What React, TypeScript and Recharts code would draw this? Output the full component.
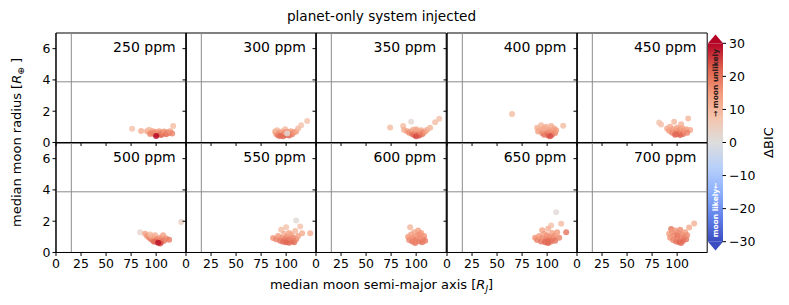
import React from 'react';
import {
  ScatterChart, Scatter, XAxis, YAxis, ReferenceLine, ReferenceArea,
  BarChart, Bar,
} from 'recharts';

// panel labels (injected noise level)
const ppmLabels = ['250 ppm', '300 ppm', '350 ppm', '400 ppm', '450 ppm', '500 ppm', '550 ppm', '600 ppm', '650 ppm', '700 ppm'];

const xTicks = [0, 25, 50, 75, 100];
const yTicks = [0, 2, 4, 6];
const cbarTicks = [-30, -20, -10, 0, 10, 20, 30];

// [semi-major axis (R_J), moon radius (R_earth), delta BIC]
const p250 = [[76, 0.88, 8], [85, 0.74, 12], [91, 0.72, 14], [93, 0.82, 9], [95, 0.62, 16], [96, 0.74, 12], [98, 0.55, 20], [99, 0.68, 15], [101, 0.5, 22], [102, 0.62, 18], [103, 0.72, 14], [104, 0.55, 20], [105, 0.48, 22], [106, 0.64, 17], [107, 0.58, 19], [108, 0.7, 15], [110, 0.52, 21], [111, 0.66, 17], [113, 0.6, 19], [114, 0.72, 14], [116, 0.58, 18], [117, 1.05, 9], [97, 0.6, 17], [94, 0.55, 18], [100, 0.42, 30]];
const p300 = [[89, 0.7, 12], [90, 0.55, 15], [91, 0.78, 10], [92, 0.45, 20], [93, 0.62, 16], [95, 0.5, 20], [96, 0.7, 13], [97, 0.4, 22], [98, 0.58, 18], [99, 0.85, 10], [100, 0.48, 22], [102, 0.68, 15], [103, 0.45, 22], [104, 0.6, 17], [105, 0.72, 13], [106, 0.52, 19], [108, 0.65, 16], [110, 0.7, 14], [112, 0.9, 10], [115, 1.1, 8], [121, 1.37, 8], [94, 0.42, 21], [99, 0.66, 16], [101, 0.58, 1]];
const p350 = [[74, 0.96, 9], [87, 1.05, 9], [95, 1.33, 2], [88, 0.8, 12], [91, 0.72, 14], [93, 0.62, 17], [95, 0.7, 15], [96, 0.55, 20], [97, 0.82, 12], [98, 0.48, 22], [99, 0.62, 18], [100, 0.4, 25], [101, 0.72, 16], [102, 0.55, 21], [103, 0.45, 24], [104, 0.66, 17], [105, 0.78, 13], [106, 0.52, 20], [107, 0.62, 18], [109, 0.7, 15], [111, 0.82, 12], [114, 0.95, 10], [119, 1.3, 9], [123, 1.52, 8], [100, 0.85, 13]];
const p400 = [[65, 1.82, 9], [116, 1.07, 9], [90, 0.95, 11], [91, 0.7, 14], [92, 0.82, 12], [94, 1.1, 10], [95, 0.6, 17], [96, 0.85, 13], [97, 0.5, 20], [98, 0.72, 15], [99, 1.0, 11], [100, 0.58, 19], [101, 0.45, 22], [102, 0.8, 14], [103, 0.65, 17], [104, 1.05, 12], [105, 0.5, 21], [106, 0.75, 15], [107, 0.9, 13], [108, 0.6, 18], [109, 0.78, 15], [103, 0.4, 24], [97, 0.92, 12]];
const p450 = [[82, 1.28, 7], [84, 1.15, 8], [97, 1.33, 10], [104, 1.17, 11], [111, 1.54, 10], [113, 0.8, 13], [90, 0.9, 13], [92, 0.75, 15], [93, 1.0, 12], [95, 0.62, 18], [96, 0.85, 15], [98, 0.5, 22], [99, 0.72, 17], [100, 0.95, 14], [101, 0.58, 20], [102, 0.8, 16], [103, 0.48, 23], [104, 0.68, 18], [105, 0.9, 14], [106, 0.55, 21], [107, 0.75, 16], [109, 0.85, 14], [110, 0.62, 18], [99, 0.55, 21]];
const p500 = [[84, 1.3, 3], [125, 1.95, 4], [89, 1.2, 14], [91, 1.05, 16], [93, 0.95, 17], [94, 1.15, 10], [95, 0.85, 19], [96, 1.0, 10], [97, 0.75, 20], [98, 0.9, 15], [99, 1.1, 12], [100, 0.7, 22], [101, 0.85, 18], [103, 0.75, 22], [104, 0.95, 16], [105, 0.65, 23], [106, 0.85, 18], [107, 1.1, 14], [108, 0.75, 20], [110, 0.9, 17], [113, 0.82, 19], [98, 0.68, 21], [104, 0.58, 24], [102, 0.62, 29]];
const p550 = [[87, 0.92, 16], [90, 0.85, 18], [92, 1.05, 15], [94, 0.75, 20], [95, 1.45, 9], [96, 0.95, 17], [97, 0.68, 21], [98, 1.2, 12], [99, 0.85, 19], [100, 1.62, 8], [100, 0.65, 22], [101, 1.0, 17], [102, 0.78, 20], [103, 0.62, 22], [104, 0.9, 18], [105, 1.15, 14], [106, 0.72, 20], [107, 0.95, 17], [108, 0.65, 21], [109, 1.38, 10], [110, 2.04, 1], [110, 0.85, 18], [112, 1.05, 14], [114, 1.66, 8], [116, 1.23, 12], [124, 1.23, 12], [103, 1.25, 13]];
const p600 = [[94, 1.62, 10], [92, 1.0, 15], [93, 0.8, 17], [95, 1.15, 14], [96, 0.7, 19], [97, 0.95, 16], [98, 1.3, 13], [99, 0.6, 20], [100, 0.85, 18], [101, 1.1, 15], [102, 1.4, 14], [103, 0.72, 19], [104, 0.95, 17], [105, 1.25, 15], [106, 0.65, 20], [107, 0.88, 17], [108, 1.05, 16], [109, 0.75, 19], [98, 0.78, 18], [103, 1.15, 16]];
const p650 = [[109, 2.58, 1], [114, 1.83, 9], [104, 1.73, 8], [101, 1.52, 11], [95, 1.42, 13], [119, 1.3, 20], [88, 0.95, 16], [90, 0.8, 18], [92, 1.05, 15], [94, 0.7, 20], [95, 0.95, 17], [97, 1.2, 14], [98, 0.65, 22], [99, 0.88, 19], [100, 1.1, 16], [101, 0.6, 23], [102, 0.8, 20], [103, 1.0, 17], [104, 0.7, 21], [105, 1.25, 14], [106, 0.9, 19], [107, 1.05, 16], [108, 0.75, 20], [110, 1.3, 15], [112, 0.95, 18], [100, 0.72, 21]];
const p700 = [[117, 1.85, 11], [112, 1.6, 12], [94, 1.5, 20], [92, 1.2, 14], [93, 0.95, 16], [95, 1.3, 15], [96, 0.8, 18], [97, 1.1, 17], [98, 1.4, 16], [99, 0.7, 20], [100, 0.95, 18], [101, 1.25, 16], [102, 0.65, 22], [103, 1.45, 17], [104, 0.9, 19], [105, 1.15, 17], [106, 0.75, 21], [107, 1.0, 18], [108, 1.3, 15], [109, 0.85, 20], [110, 1.1, 17], [100, 1.1, 19], [104, 0.6, 21]];

const panels = [p250, p300, p350, p400, p450, p500, p550, p600, p650, p700];

const FONT = '"DejaVu Sans", sans-serif';
const PANEL_LEFT = 56;
const PANEL_W = 130.2;
const PANEL_H = 109.5;
const ROW_TOPS = [33, 142.5];
const YW = 40;
const XH = 24;
const PAD = 2;

// matplotlib coolwarm, sampled
const cw: [number, number[]][] = [
  [0, [59, 76, 192]], [0.125, [98, 130, 234]], [0.25, [141, 176, 254]], [0.375, [184, 208, 249]],
  [0.5, [221, 221, 221]], [0.625, [244, 196, 173]], [0.75, [244, 154, 123]], [0.875, [222, 96, 77]], [1, [180, 4, 38]],
];

function coolwarm(t: number) {
  t = Math.max(0, Math.min(1, t));
  for (let i = 1; i < cw.length; i++) {
    if (t <= cw[i][0]) {
      const [t0, c0] = cw[i - 1];
      const [t1, c1] = cw[i];
      const f = (t - t0) / (t1 - t0);
      const c = c0.map((v, k) => Math.round(v + (c1[k] - v) * f));
      return `rgb(${c[0]},${c[1]},${c[2]})`;
    }
  }
  return 'rgb(180,4,38)';
}

const bicColour = (d: number) => coolwarm((d + 30) / 60);

function Dot(props: any) {
  const { cx, cy, payload } = props;
  if (cx == null || cy == null) return <g />;
  return <circle cx={cx} cy={cy} r={3} fill={bicColour(payload.d)} fillOpacity={0.8} />;
}

const tickStyle = { fontSize: 12.5, fill: '#000', fontFamily: FONT };
const noTick = () => <g />;

function Panel({ idx }: { idx: number }) {
  const row = Math.floor(idx / 5);
  const col = idx % 5;
  const left = PANEL_LEFT + col * PANEL_W;
  const top = ROW_TOPS[row];
  const data = panels[idx].map(([a, r, d]) => ({ a, r, d }));
  return (
    <div style={{ position: 'absolute', left: left - YW, top: top - PAD }}>
      <ScatterChart
        width={YW + PANEL_W + PAD}
        height={PAD + PANEL_H + XH}
        margin={{ top: PAD, right: PAD, bottom: 0, left: 0 }}
      >
        <XAxis
          type="number"
          dataKey="a"
          domain={[0, 130]}
          ticks={xTicks}
          allowDataOverflow
          height={XH}
          tickSize={3.5}
          tickMargin={3}
          stroke="#000"
          tickLine={{ stroke: '#000' }}
          tick={row === 1 ? tickStyle : noTick}
        />
        <YAxis
          type="number"
          dataKey="r"
          domain={[0, 7]}
          ticks={yTicks}
          allowDataOverflow
          width={YW}
          tickSize={3.5}
          tickMargin={2}
          stroke="#000"
          tickLine={{ stroke: '#000' }}
          tick={col === 0 ? tickStyle : noTick}
        />
        <ReferenceLine x={15.3} stroke="#8c8c8c" strokeWidth={1} />
        <ReferenceLine y={3.88} stroke="#8c8c8c" strokeWidth={1} />
        <Scatter data={data} shape={<Dot />} isAnimationActive={false} />
        <ReferenceArea x1={0} x2={130} y1={0} y2={7} fill="none" stroke="#000" strokeWidth={1} ifOverflow="visible" />
      </ScatterChart>
    </div>
  );
}

function ColorbarShape(props: any) {
  const { x, y, width, height } = props;
  const top = Math.min(y, y + height);
  const h = Math.abs(height);
  const tip = (h * 2.7) / 60;
  const cx = x + width / 2;
  return (
    <g>
      <defs>
        <linearGradient id="cbgrad" x1="0" y1="1" x2="0" y2="0">
          {cw.map(([t, c]) => (
            <stop key={t} offset={t} stopColor={`rgb(${c[0]},${c[1]},${c[2]})`} />
          ))}
        </linearGradient>
      </defs>
      <rect x={x} y={top} width={width} height={h} fill="url(#cbgrad)" />
      <polygon points={`${x},${top} ${x + width},${top} ${cx},${top - tip}`} fill="#b40426" />
      <polygon points={`${x},${top + h} ${x + width},${top + h} ${cx},${top + h + tip}`} fill="#3b4cc0" />
      <text
        x={cx} y={top + h * 0.2} transform={`rotate(-90 ${cx} ${top + h * 0.2})`}
        textAnchor="middle" dominantBaseline="central" fontSize={7.5} fontWeight="bold"
        fill="#2a1a1a" fontFamily={FONT}
      >
        → moon unlikely
      </text>
      <text
        x={cx} y={top + h * 0.84} transform={`rotate(-90 ${cx} ${top + h * 0.84})`}
        textAnchor="middle" dominantBaseline="central" fontSize={7.5} fontWeight="bold"
        fill="#ffffff" fontFamily={FONT}
      >
        moon likely←
      </text>
    </g>
  );
}

const cbarData = [{ k: 'c', v: [-30, 30] }];

function Colorbar() {
  return (
    <div style={{ position: 'absolute', left: 700, top: 0 }}>
      <BarChart
        width={89}
        height={270}
        data={cbarData}
        margin={{ top: 33.4, right: 0, bottom: 18.4, left: 8 }}
        barCategoryGap={0}
        barGap={0}
      >
        <XAxis dataKey="k" type="category" hide />
        <YAxis
          orientation="right"
          type="number"
          domain={[-33, 33]}
          ticks={cbarTicks}
          width={66.5}
          axisLine={false}
          tickSize={3.5}
          tickMargin={3}
          tickLine={{ stroke: '#000' }}
          tick={tickStyle}
          tickFormatter={(v: number) => String(v).replace('-', '\u2212')}
        />
        <Bar dataKey="v" shape={<ColorbarShape />} isAnimationActive={false} />
      </BarChart>
    </div>
  );
}

export default function App() {
  return (
    <div style={{ position: 'absolute', left: 0, top: 0, width: 789, height: 305, background: '#fff', fontFamily: FONT }}>
      {panels.map((_, i) => <Panel key={i} idx={i} />)}
      <Colorbar />
      <svg width={789} height={305} style={{ position: 'absolute', left: 0, top: 0, pointerEvents: 'none' }}>
        <g fontFamily={FONT} fill="#000">
          <text x={381.5} y={21} textAnchor="middle" fontSize={13.6}>planet-only system injected</text>
          {ppmLabels.map((lab, i) => {
            const row = Math.floor(i / 5);
            const col = i % 5;
            return (
              <text key={lab} x={PANEL_LEFT + (col + 1) * PANEL_W - 10.5} y={ROW_TOPS[row] + 19} textAnchor="end" fontSize={14}>
                {lab}
              </text>
            );
          })}
          <text x={381.5} y={289} textAnchor="middle" fontSize={13}>
            median moon semi-major axis [<tspan fontStyle="italic">R</tspan>
            <tspan fontSize={9} dy={3} fontStyle="italic">J</tspan><tspan dy={-3}>]</tspan>
          </text>
          <text x={21} y={142.5} textAnchor="middle" fontSize={13} transform="rotate(-90 21 142.5)">
            median moon radius [<tspan fontStyle="italic">R</tspan>
            <tspan fontSize={9} dy={3}>⊕</tspan><tspan dy={-3}> ]</tspan>
          </text>
          <text x={773} y={142.5} textAnchor="middle" fontSize={13} transform="rotate(-90 773 142.5)">ΔBIC</text>
        </g>
      </svg>
    </div>
  );
}
